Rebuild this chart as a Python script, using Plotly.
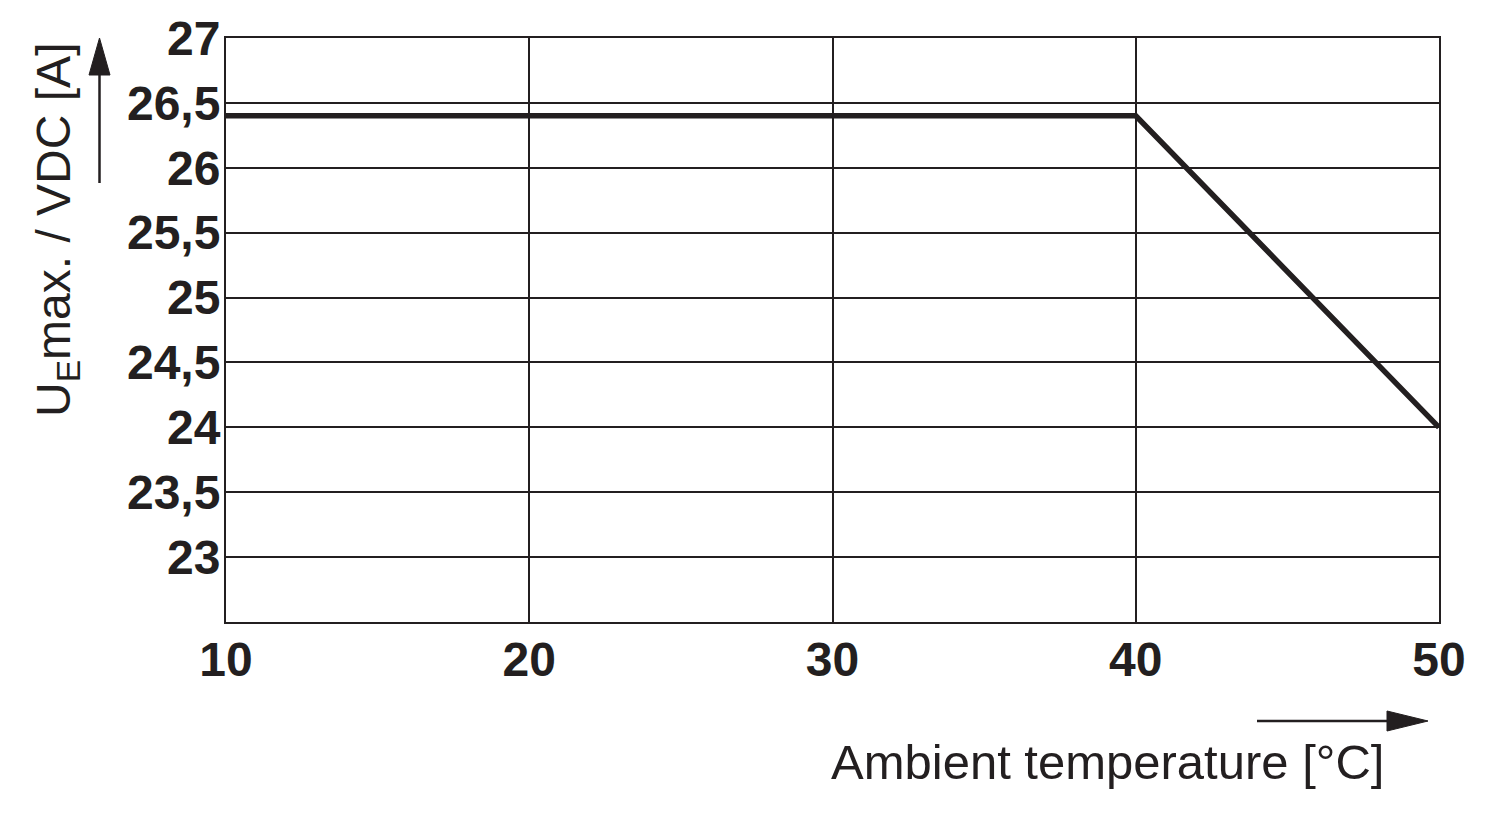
import plotly.graph_objects as go

# Data
temperature = [10, 40, 50]
u_max = [26.4, 26.4, 24.0]

x_ticks = [10, 20, 30, 40, 50]
x_tick_labels = ["10", "20", "30", "40", "50"]
y_ticks = [23, 23.5, 24, 24.5, 25, 25.5, 26, 26.5, 27]
y_tick_labels = ["23", "23,5", "24", "24,5", "25", "25,5", "26", "26,5", "27"]

INK = "#231f20"
FONT = "Liberation Sans, Arial, Helvetica, sans-serif"

OFF = 8  # page body margin in the browser
W, H = 1500 - OFF, 820 - OFF
L, R, T, B = 226 - OFF, 61, 38 - OFF, 198
PW, PH = W - L - R, H - T - B


def px(x):
    return (x - OFF - L) / PW


def py(y):
    return (H - B - (y - OFF)) / PH


fig = go.Figure()
fig.add_trace(go.Scatter(
    x=temperature, y=u_max, mode="lines",
    line=dict(color=INK, width=5.5), hoverinfo="skip", showlegend=False,
))

fig.update_layout(
    width=W, height=H,
    margin=dict(l=L, r=R, t=T, b=B, pad=0, autoexpand=False),
    paper_bgcolor="white", plot_bgcolor="white",
    font=dict(family=FONT, color=INK),
    showlegend=False,
)

fig.update_xaxes(
    range=[10, 50], tickvals=x_ticks, ticktext=x_tick_labels,
    showgrid=True, gridcolor=INK, gridwidth=2,
    showline=True, linecolor=INK, linewidth=2, mirror=True,
    ticks="", zeroline=False, automargin=False,
    tickfont=dict(family=FONT, size=48, color=INK, weight="bold"),
    ticklabelstandoff=-6,
)
fig.update_yaxes(
    range=[22.5, 27], tickvals=y_ticks, ticktext=y_tick_labels,
    showgrid=True, gridcolor=INK, gridwidth=2,
    showline=True, linecolor=INK, linewidth=2, mirror=True,
    ticks="", zeroline=False, automargin=False,
    tickfont=dict(family=FONT, size=48, color=INK, weight="bold"),
    ticklabelstandoff=-6,
)

# Axis titles
fig.add_annotation(
    text="U<sub>E</sub>max. / VDC [A]", textangle=-90,
    xref="paper", yref="paper", x=px(57), y=py(230),
    xanchor="center", yanchor="middle", showarrow=False,
    font=dict(family=FONT, size=48, color=INK),
)
fig.add_annotation(
    text="Ambient temperature [°C]",
    xref="paper", yref="paper", x=px(1386), y=py(762),
    xanchor="right", yanchor="middle", showarrow=False,
    font=dict(family=FONT, size=49, color=INK),
)

# Arrows next to axis titles
# vertical arrow
fig.add_shape(type="line", xref="paper", yref="paper",
              x0=px(99.5), x1=px(99.5), y0=py(183), y1=py(70),
              line=dict(color=INK, width=2.5))
fig.add_shape(type="path", xref="paper", yref="paper",
              path=f"M {px(89)},{py(75)} L {px(110)},{py(75)} L {px(99.5)},{py(38)} Z",
              fillcolor=INK, line=dict(color=INK, width=1))
# horizontal arrow
fig.add_shape(type="line", xref="paper", yref="paper",
              x0=px(1257), x1=px(1392), y0=py(721), y1=py(721),
              line=dict(color=INK, width=2.5))
fig.add_shape(type="path", xref="paper", yref="paper",
              path=f"M {px(1387)},{py(711)} L {px(1387)},{py(731)} L {px(1428)},{py(721)} Z",
              fillcolor=INK, line=dict(color=INK, width=1))

fig.write_html("out.html")
